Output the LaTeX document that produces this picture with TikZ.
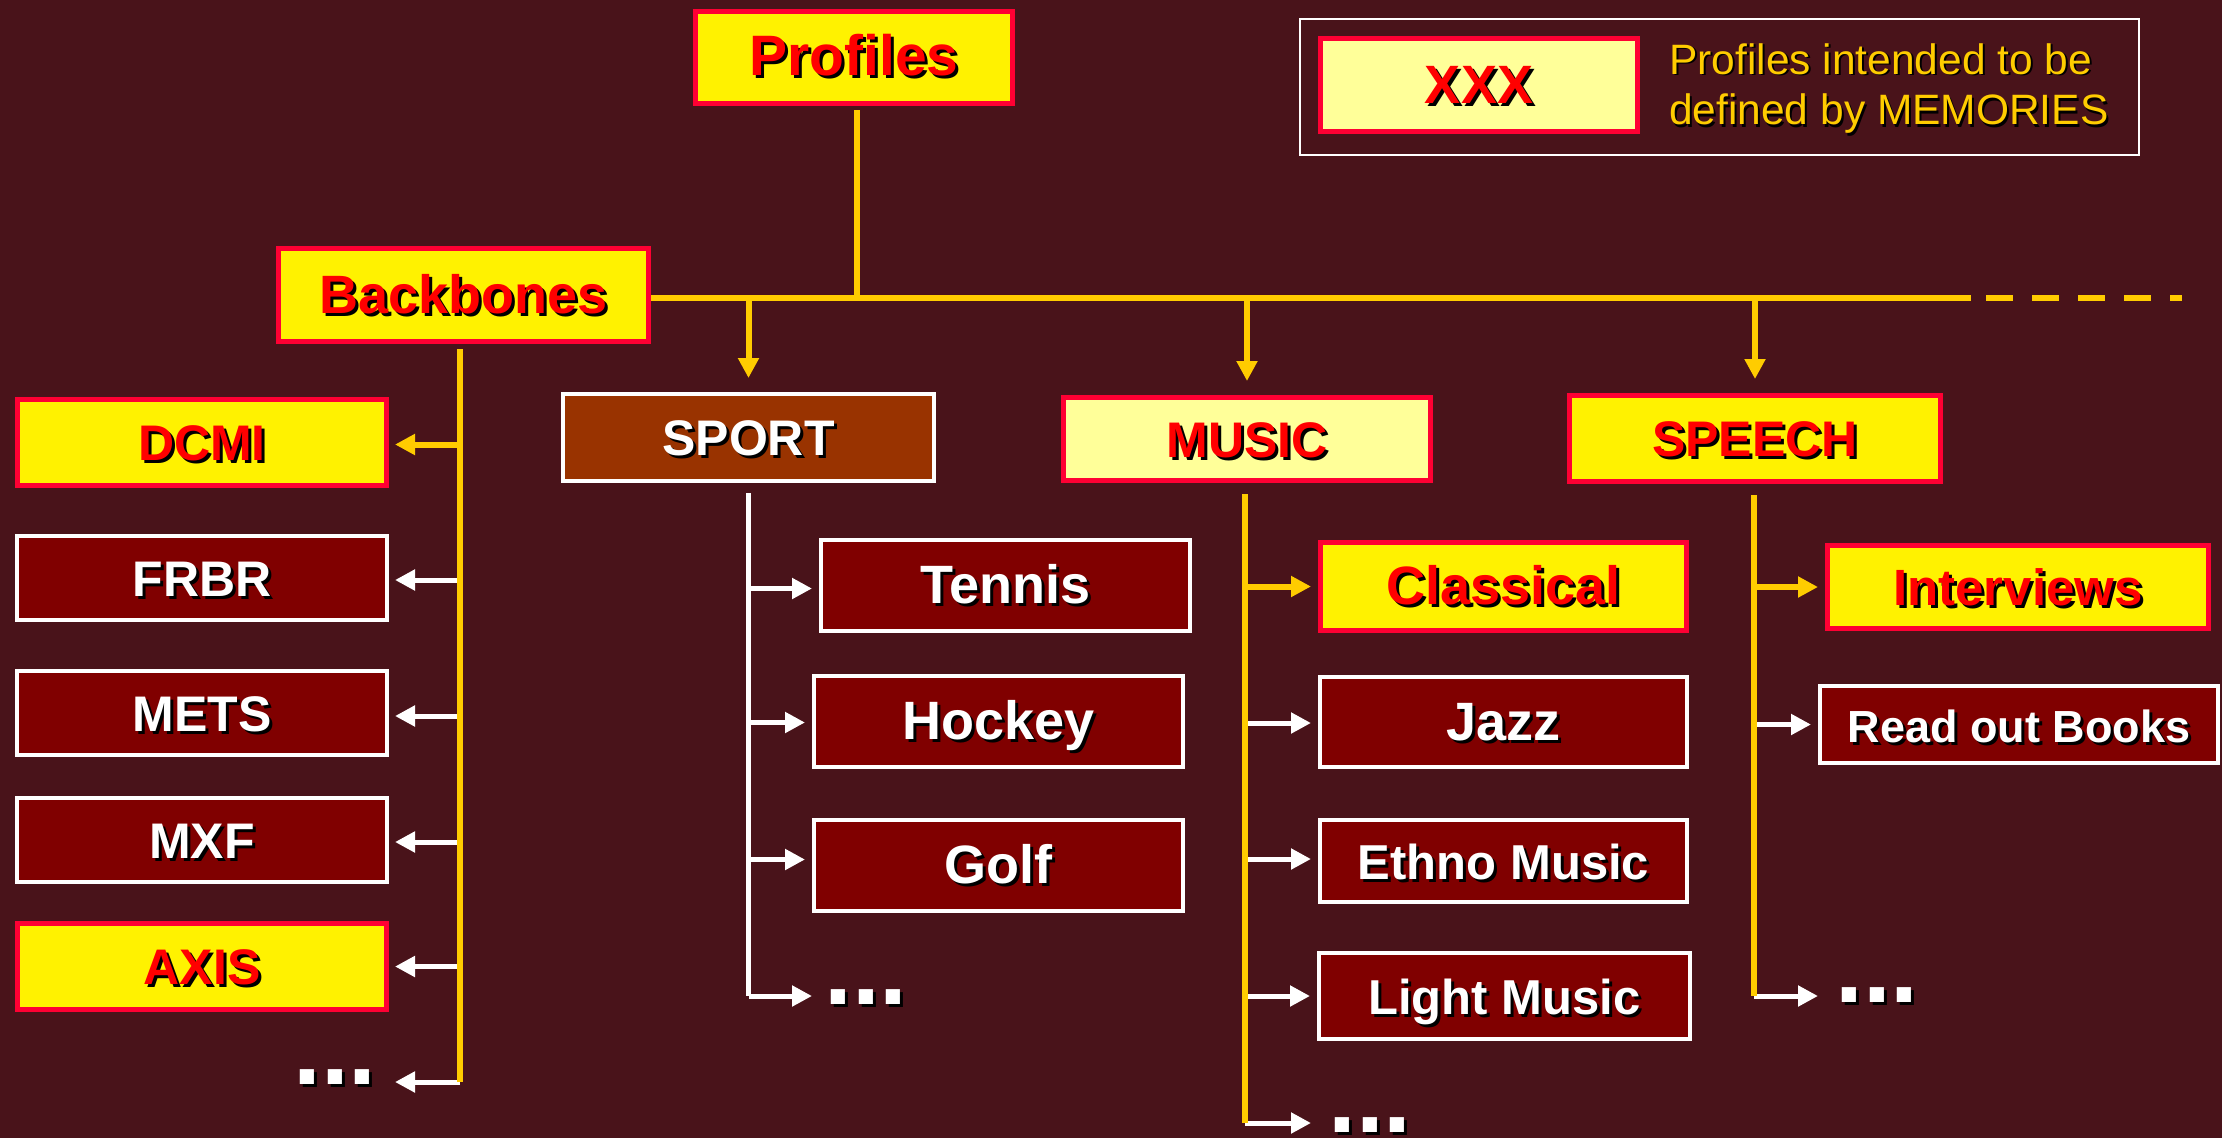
\documentclass[tikz,border=0pt]{standalone}
\usepackage{fontspec}
\setmainfont{Liberation Sans}
\usetikzlibrary{arrows.meta}
\definecolor{bgc}{RGB}{73,19,26}
\definecolor{boxred}{RGB}{255,0,51}
\definecolor{txtred}{RGB}{255,0,0}
\definecolor{lyel}{RGB}{255,255,153}
\definecolor{dred}{RGB}{128,0,0}
\definecolor{sbrown}{RGB}{153,51,0}
\definecolor{gold}{RGB}{255,204,0}
\newcommand\shd[2][3pt]{\makebox[0pt][l]{\hspace{#1}\raisebox{-#1}{\color{black}#2}}#2}
\pgfdeclarelayer{bglayer}
\pgfdeclarelayer{lines}
\pgfsetlayers{bglayer,lines,main}
\begin{document}
\begin{tikzpicture}[x=1pt,y=-1pt,
 box/.style={inner sep=0pt, text height=36pt, text depth=0pt, font=\bfseries\fontsize{50}{60}\selectfont},
 ybox/.style={box, fill=yellow, draw=boxred, line width=5pt, text=txtred},
 lybox/.style={box, fill=lyel, draw=boxred, line width=5pt, text=txtred},
 dbox/.style={box, fill=dred, draw=white, line width=4pt, text=white},
 sbox/.style={box, fill=sbrown, draw=white, line width=4pt, text=white},
 fs/.style={font=\bfseries\fontsize{#1}{#1}\selectfont},
 gline/.style={draw=gold, line width=6pt},
 wline/.style={draw=white, line width=5pt},
 garr/.style={gline, -{Triangle[length=20pt,width=20pt]}},
 warr/.style={wline, -{Triangle[length=20pt,width=20pt]}},
 dotsn/.style={anchor=base west, text=white, inner sep=0pt, font=\bfseries\fontsize{100}{100}\selectfont},
]
\begin{pgfonlayer}{bglayer}
\fill[bgc] (0,0) rectangle (2222,1138);
\end{pgfonlayer}
\useasboundingbox (0,0) rectangle (2222,1138);

% top
\node[ybox, fs=57, minimum width=317pt, minimum height=92pt] (profiles) at (854,57.5) {\shd{Profiles}};
\node[ybox, fs=54, minimum width=370pt, minimum height=93pt] (backbones) at (463.5,295) {\shd{Backbones}};

% legend
\node[draw=white, line width=2pt, inner sep=0pt, minimum width=839pt, minimum height=136pt] (legend) at (1719.5,87) {};
\node[lybox, fs=54, minimum width=317pt, minimum height=93pt] (xxx) at (1479,85) {\shd{XXX}};
\node[anchor=north west, align=left, text=gold, inner sep=0pt, font=\fontsize{42.5}{51}\selectfont] (legtext) at (1669,43) {\shd[2pt]{Profiles intended to be}\\\shd[2pt]{defined by MEMORIES}};

% categories
\node[sbox, minimum width=371pt, minimum height=87pt] (sport) at (748.5,437.5) {\shd{SPORT}};
\node[lybox, minimum width=367pt, minimum height=83pt] (music) at (1247,439) {\shd{MUSIC}};
\node[ybox, minimum width=371pt, minimum height=86pt] (speech) at (1755,438.5) {\shd{SPEECH}};

% backbones column
\node[ybox, minimum width=369pt, minimum height=86pt] (dcmi) at (202,442.5) {\shd{DCMI}};
\node[dbox, minimum width=370pt, minimum height=84pt] (frbr) at (202,578) {\shd{FRBR}};
\node[dbox, minimum width=370pt, minimum height=84pt] (mets) at (202,713) {\shd{METS}};
\node[dbox, minimum width=370pt, minimum height=84pt] (mxf) at (202,840) {\shd{MXF}};
\node[ybox, minimum width=369pt, minimum height=86pt] (axis) at (202,966.5) {\shd{AXIS}};
\node[dotsn] (dotsL) at (293,1084) {\shd{...}};

% sport column
\node[dbox, fs=54, minimum width=369pt, minimum height=91pt] (tennis) at (1005.5,585.5) {\shd{Tennis}};
\node[dbox, fs=54, minimum width=369pt, minimum height=91pt] (hockey) at (998.5,721.5) {\shd{Hockey}};
\node[dbox, fs=54, minimum width=369pt, minimum height=91pt] (golf) at (998.5,865.5) {\shd{Golf}};
\node[dotsn] (dotsS) at (824,1004) {\shd{...}};

% music column
\node[ybox, fs=54, minimum width=366pt, minimum height=88pt] (classical) at (1503.5,586.5) {\shd{Classical}};
\node[dbox, fs=54, minimum width=367pt, minimum height=90pt] (jazz) at (1503.5,722) {\shd{Jazz}};
\node[dbox, fs=49, minimum width=367pt, minimum height=82pt] (ethno) at (1503.5,861) {\shd{Ethno Music}};
\node[dbox, fs=49, minimum width=371pt, minimum height=86pt] (light) at (1504.5,996) {\shd{Light Music}};
\node[dotsn] (dotsM) at (1328,1132) {\shd{...}};

% speech column
\node[ybox, fs=51, minimum width=381pt, minimum height=83pt] (interviews) at (2018,587) {\shd{Interviews}};
\node[dbox, fs=45, minimum width=398pt, minimum height=77pt] (readout) at (2019,724.5) {\shd{Read out Books}};
\node[dotsn] (dotsSp) at (1835,1002) {\shd{...}};

% coordinates
\coordinate (hub) at (857,298);
\coordinate (solidend) at (1971,298);
\coordinate (dashstart) at (1986,298);
\coordinate (dashend) at (2182,298);
\coordinate (bbend) at (460,1082);
\coordinate (ldtip) at (395,1082);
\coordinate (sportend) at (748.5,996);
\coordinate (sdtip) at (812,996);
\coordinate (musicend) at (1245,1123);
\coordinate (mdtip) at (1311,1123);
\coordinate (speechend) at (1754,996);
\coordinate (spdtip) at (1818,996);

\begin{pgfonlayer}{lines}
% main structure
\draw[gline, shorten <=4pt] (profiles.south -| hub) -- (hub);
\draw[gline] (backbones.east |- hub) -- (solidend);
\draw[gline, dash pattern=on 27pt off 19pt] (dashstart) -- (dashend);
\draw[garr, shorten >=14pt] (sport |- hub) -- (sport.north);
\draw[garr, shorten >=14pt] (music |- hub) -- (music.north);
\draw[garr, shorten >=14pt] (speech |- hub) -- (speech.north);

% backbones column
\draw[warr, shorten >=6pt] ([yshift=-2pt]bbend |- frbr.east) -- ([yshift=-2pt]frbr.east);
\draw[warr, shorten >=6pt] ([yshift=-3pt]bbend |- mets.east) -- ([yshift=-3pt]mets.east);
\draw[warr, shorten >=6pt] ([yshift=-2pt]bbend |- mxf.east) -- ([yshift=-2pt]mxf.east);
\draw[warr, shorten >=6pt] (bbend |- axis.east) -- (axis.east);
\draw[warr] (bbend) -- (ldtip);
\draw[garr, shorten >=6pt] ([yshift=-2pt]bbend |- dcmi.east) -- ([yshift=-2pt]dcmi.east);
\draw[gline, shorten <=5pt] (backbones.south -| bbend) -- (bbend);

% sport column
\draw[warr, shorten >=7pt] ([yshift=-3pt]sport.south |- tennis.west) -- ([yshift=-3pt]tennis.west);
\draw[warr, shorten >=7pt] ([yshift=-1pt]sport.south |- hockey.west) -- ([yshift=-1pt]hockey.west);
\draw[warr, shorten >=7pt] ([yshift=6pt]sport.south |- golf.west) -- ([yshift=6pt]golf.west);
\draw[warr] (sportend) -- (sdtip);
\draw[wline, shorten <=10pt] (sport.south) -- (sportend);

% music column
\draw[warr, shorten >=7pt] ([yshift=-1pt]musicend |- jazz.west) -- ([yshift=-1pt]jazz.west);
\draw[warr, shorten >=7pt] ([yshift=2pt]musicend |- ethno.west) -- ([yshift=2pt]ethno.west);
\draw[warr, shorten >=7pt] (musicend |- light.west) -- (light.west);
\draw[warr] (musicend) -- (mdtip);
\draw[garr, shorten >=7pt] (musicend |- classical.west) -- (classical.west);
\draw[gline, shorten <=11pt] (music.south -| musicend) -- (musicend);

% speech column
\draw[warr, shorten >=7pt] (speechend |- readout.west) -- (readout.west);
\draw[warr] (speechend) -- (spdtip);
\draw[garr, shorten >=7pt] (speechend |- interviews.west) -- (interviews.west);
\draw[gline, shorten <=11pt] (speech.south -| speechend) -- (speechend);
\end{pgfonlayer}
\end{tikzpicture}
\end{document}
